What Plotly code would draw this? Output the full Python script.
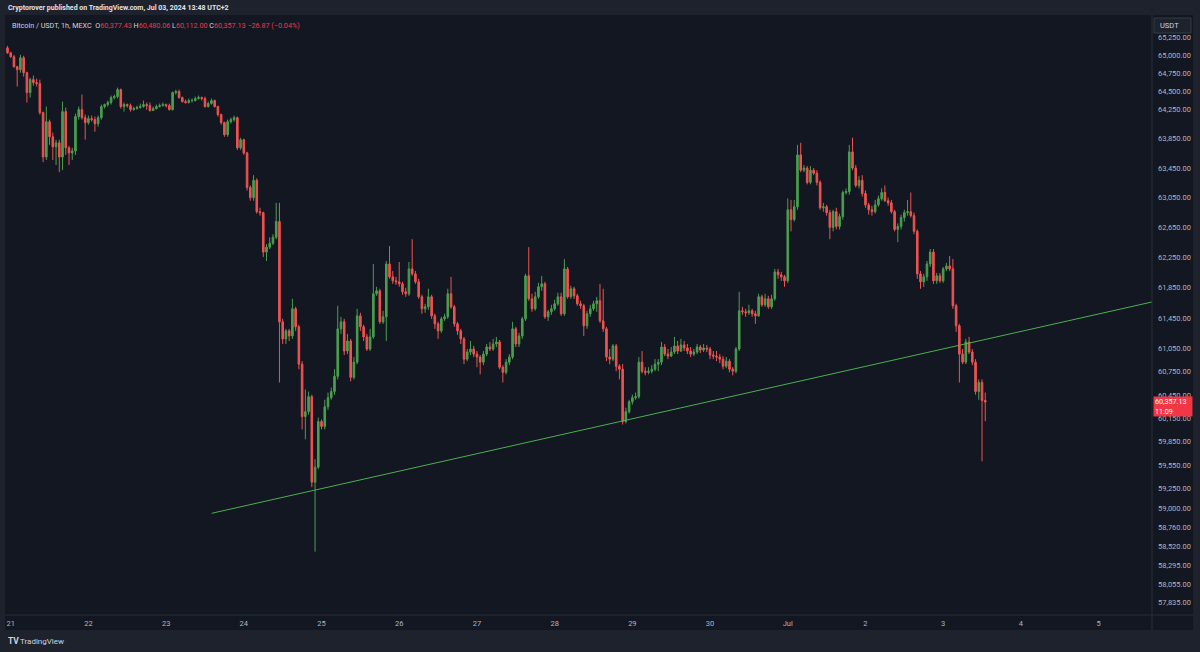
import math
import pandas as pd
import plotly.graph_objects as go

# ---------------- data (BTC/USDT 1h, MEXC) ----------------
opens = [
    65099, 65030, 64975, 64837, 64796, 64961, 64755, 64480, 64659, 64618,
    64604, 64205, 63600, 64081, 63875, 63738, 63793, 63600, 64219, 63724,
    63655, 63682, 64150, 64246, 64136, 64068, 64123, 64109, 64054, 64136,
    64288, 64315, 64343, 64411, 64425, 64521, 64288, 64315, 64301, 64246,
    64260, 64274, 64288, 64315, 64301, 64233, 64260, 64288, 64301, 64315,
    64301, 64246, 64480, 64494, 64411, 64356, 64343, 64370, 64372, 64398,
    64411, 64398, 64288, 64329, 64370, 64288, 64178, 64068, 63903, 64081,
    64109, 64136, 63724, 63834, 63655, 63188, 63050, 63284, 62861, 62848,
    62321, 62387, 62440, 62519, 62729, 61400, 61177, 61282, 61216, 61571,
    61335, 60848, 60171, 60234, 60427, 59334, 59524, 60107, 60044, 60297,
    60414, 60493, 60690, 61308, 61400, 61019, 61150, 60677, 60874, 61479,
    61335, 61203, 61045, 61203, 61769, 61808, 61400, 61466, 62164, 61993,
    61940, 61927, 61900, 61795, 61769, 62098, 62032, 61927, 61729, 61571,
    61598, 61729, 61479, 61374, 61282, 61439, 61466, 61769, 61598, 61374,
    61282, 61177, 60913, 61006, 61045, 60979, 60940, 60874, 60979, 61071,
    61045, 61111, 61137, 60808, 60742, 60874, 60940, 61308, 61111, 61216,
    61439, 62006, 61703, 61571, 61729, 61861, 61900, 61466, 61532, 61571,
    61637, 61729, 61506, 62098, 61729, 61835, 61742, 61637, 61611, 61348,
    61506, 61571, 61637, 61677, 61413, 61308, 60940, 60913, 61085, 60821,
    60782, 60107, 60234, 60361, 60414, 60427, 60874, 60756, 60742, 60756,
    60782, 60848, 60874, 61071, 60979, 60953, 61006, 61085, 61019, 61098,
    61058, 61019, 60979, 61006, 61071, 61032, 61058, 61045, 60966, 60953,
    60940, 60913, 60821, 60887, 60782, 60756, 61045, 61545, 61532, 61519,
    61545, 61506, 61479, 61729, 61624, 61703, 61598, 61703, 62058, 62019,
    61993, 61940, 62887, 62756, 62927, 63628, 63421, 63449, 63256, 63421,
    63380, 63256, 62914, 62927, 62848, 62651, 62861, 62664, 62795, 63119,
    63132, 63669, 63449, 63215, 63284, 63105, 62953, 62887, 62861, 62953,
    63036, 63119, 63009, 62980, 62861, 62624, 62664, 62782, 62848, 62861,
    62808, 62598, 62032, 61927, 61993, 62164, 62321, 61940, 62006, 61940,
    62098, 62137, 62098, 61611, 61348, 60979, 60874, 61137, 61006, 60874,
    60493, 60611, 60377.43,
]
highs = [
    65126, 65044, 65002, 64851, 65002, 64989, 64769, 64686, 64714, 64673,
    64659, 64219, 64288, 64109, 63930, 63834, 63834, 64356, 64274, 63751,
    63724, 64191, 64288, 64453, 64178, 64164, 64164, 64150, 64164, 64315,
    64329, 64370, 64439, 64453, 64549, 64535, 64343, 64329, 64329, 64288,
    64301, 64329, 64370, 64343, 64343, 64288, 64315, 64329, 64343, 64329,
    64329, 64494, 64521, 64521, 64425, 64384, 64398, 64398, 64425, 64439,
    64425, 64425, 64356, 64398, 64384, 64301, 64191, 64081, 64109, 64136,
    64164, 64150, 63861, 63848, 63669, 63215, 63353, 63311, 62914, 62861,
    62427, 62519, 62559, 62980, 62980, 61439, 61308, 61308, 61703, 61598,
    61361, 60887, 60519, 60493, 60453, 59626, 60158, 60133, 60387, 60480,
    60545, 60782, 61611, 61466, 61439, 61242, 61177, 60940, 61571, 61519,
    61361, 61242, 61308, 62164, 61861, 61835, 61545, 62203, 62400, 62071,
    61993, 62190, 61927, 61848, 62190, 62493, 62071, 61966, 61756, 61637,
    61835, 61756, 61506, 61400, 61466, 61506, 61835, 61993, 61624, 61400,
    61308, 61203, 61045, 61150, 61085, 61019, 60966, 61019, 61111, 61137,
    61177, 61203, 61163, 60835, 60913, 60979, 61400, 61335, 61256, 61466,
    62032, 62387, 61769, 61795, 61914, 62006, 61927, 61558, 61624, 61690,
    61782, 61782, 62229, 62124, 61874, 61861, 61769, 61677, 61637, 61545,
    61624, 61677, 61729, 61900, 61835, 61335, 61045, 61111, 61111, 60848,
    60848, 60285, 60387, 60453, 60480, 60940, 61019, 60808, 60808, 60835,
    60913, 60913, 61137, 61111, 61045, 61071, 61203, 61150, 61177, 61150,
    61111, 61071, 61045, 61111, 61098, 61111, 61098, 61071, 61019, 61019,
    60979, 60953, 60940, 60913, 60808, 61071, 61795, 61598, 61571, 61624,
    61571, 61545, 61769, 61756, 61769, 61742, 61756, 62098, 62098, 62058,
    62019, 63040, 63019, 63019, 63765, 63793, 63490, 63476, 63476, 63449,
    63421, 63284, 62980, 62953, 62887, 62887, 62914, 62835, 63146, 63174,
    63765, 63861, 63490, 63339, 63353, 63146, 62980, 62940, 63019, 63078,
    63174, 63215, 63050, 63019, 62887, 62703, 62822, 62887, 63019, 63119,
    62848, 62624, 62071, 62032, 62203, 62361, 62361, 62045, 62045, 62124,
    62177, 62269, 62229, 61637, 61374, 61045, 61177, 61203, 61045, 60913,
    60650, 60650, 60480.06,
]
lows = [
    65016, 64961, 64824, 64563, 64755, 64700, 64343, 64411, 64576, 64563,
    64178, 63531, 63559, 63765, 63559, 63490, 63394, 63421, 63628, 63490,
    63559, 63628, 64109, 64109, 63834, 64040, 64081, 63944, 64013, 64109,
    64260, 64288, 64315, 64384, 64398, 64260, 64219, 64274, 64219, 64233,
    64246, 64260, 64274, 64246, 64219, 64233, 64246, 64274, 64288, 64274,
    64233, 64233, 64453, 64398, 64343, 64329, 64329, 64343, 64356, 64384,
    64370, 64274, 64274, 64315, 64274, 64150, 64040, 63875, 63875, 64054,
    64081, 63696, 63696, 63628, 63146, 63009, 63009, 62835, 62808, 62256,
    62203, 62361, 62414, 62493, 60611, 61111, 61111, 61150, 61177, 61282,
    60782, 60006, 59879, 60196, 59271, 58460, 59499, 60006, 60006, 60259,
    60387, 60453, 60650, 61242, 60966, 60979, 60624, 60650, 60848, 61282,
    61150, 61019, 61019, 61177, 61742, 61374, 61374, 61150, 61966, 61900,
    61887, 61861, 61756, 61729, 61742, 62006, 61900, 61703, 61506, 61519,
    61558, 61439, 61308, 61177, 61256, 61413, 61439, 61571, 61335, 61229,
    61111, 60848, 60887, 60966, 60940, 60808, 60716, 60835, 60953, 61019,
    61019, 61071, 60782, 60611, 60716, 60835, 60913, 61071, 61071, 61177,
    61413, 61677, 61532, 61545, 61703, 61808, 61439, 61413, 61492, 61545,
    61611, 61479, 61479, 61703, 61703, 61703, 61611, 61571, 61216, 61308,
    61466, 61545, 61532, 61387, 61269, 60887, 60848, 60887, 60756, 60650,
    60069, 60082, 60209, 60323, 60387, 60401, 60729, 60703, 60716, 60729,
    60756, 60756, 60835, 60953, 60913, 60940, 60979, 60979, 61006, 61019,
    60979, 60940, 60953, 60979, 60992, 61006, 61006, 60913, 60913, 60887,
    60861, 60782, 60795, 60742, 60703, 60729, 61019, 61492, 61466, 61492,
    61466, 61374, 61466, 61598, 61598, 61571, 61571, 61677, 61966, 61940,
    61861, 61914, 62598, 62729, 62887, 63394, 63394, 63229, 63229, 63353,
    63215, 62887, 62861, 62808, 62493, 62598, 62624, 62624, 62756, 63091,
    63091, 63421, 63188, 63174, 63064, 62914, 62822, 62808, 62835, 62927,
    63009, 62993, 62940, 62835, 62598, 62453, 62624, 62729, 62808, 62782,
    62559, 61966, 61835, 61861, 61940, 62124, 61900, 61900, 61914, 61914,
    62071, 62071, 61571, 61269, 60611, 60848, 60848, 60979, 60835, 60453,
    60387, 59600, 60112.00,
]
closes = [
    65030, 64975, 64837, 64796, 64961, 64755, 64480, 64659, 64618, 64604,
    64205, 63600, 64081, 63875, 63738, 63793, 63600, 64219, 63724, 63655,
    63682, 64150, 64246, 64136, 64068, 64123, 64109, 64054, 64136, 64288,
    64315, 64343, 64411, 64425, 64521, 64288, 64315, 64301, 64246, 64260,
    64274, 64288, 64315, 64301, 64233, 64260, 64288, 64301, 64315, 64301,
    64246, 64480, 64494, 64411, 64356, 64343, 64370, 64372, 64398, 64411,
    64398, 64288, 64329, 64370, 64288, 64178, 64068, 63903, 64081, 64109,
    64136, 63724, 63834, 63655, 63188, 63050, 63284, 62861, 62848, 62321,
    62387, 62440, 62519, 62729, 61400, 61177, 61282, 61216, 61571, 61335,
    60848, 60171, 60234, 60427, 59334, 59524, 60107, 60044, 60297, 60414,
    60493, 60690, 61308, 61400, 61019, 61150, 60677, 60874, 61479, 61335,
    61203, 61045, 61203, 61769, 61808, 61400, 61466, 62164, 61993, 61940,
    61927, 61900, 61795, 61769, 62098, 62032, 61927, 61729, 61571, 61598,
    61729, 61479, 61374, 61282, 61439, 61466, 61769, 61598, 61374, 61282,
    61177, 60913, 61006, 61045, 60979, 60940, 60874, 60979, 61071, 61045,
    61111, 61137, 60808, 60742, 60874, 60940, 61308, 61111, 61216, 61439,
    62006, 61703, 61571, 61729, 61861, 61900, 61466, 61532, 61571, 61637,
    61729, 61506, 62098, 61729, 61835, 61742, 61637, 61611, 61348, 61506,
    61571, 61637, 61677, 61413, 61308, 60940, 60913, 61085, 60821, 60782,
    60107, 60234, 60361, 60414, 60427, 60874, 60756, 60742, 60756, 60782,
    60848, 60874, 61071, 60979, 60953, 61006, 61085, 61019, 61098, 61058,
    61019, 60979, 61006, 61071, 61032, 61058, 61045, 60966, 60953, 60940,
    60913, 60821, 60887, 60782, 60756, 61045, 61545, 61532, 61519, 61545,
    61506, 61479, 61729, 61624, 61703, 61598, 61703, 62058, 62019, 61993,
    61940, 62887, 62756, 62927, 63628, 63421, 63449, 63256, 63421, 63380,
    63256, 62914, 62927, 62848, 62651, 62861, 62664, 62795, 63119, 63132,
    63669, 63449, 63215, 63284, 63105, 62953, 62887, 62861, 62953, 63036,
    63119, 63009, 62980, 62861, 62624, 62664, 62782, 62848, 62861, 62808,
    62598, 62032, 61927, 61993, 62164, 62321, 61940, 62006, 61940, 62098,
    62137, 62098, 61611, 61348, 60979, 60874, 61137, 61006, 60874, 60493,
    60611, 60377.43, 60357.13,
]
dates = pd.date_range("2024-06-20 23:00", periods=len(closes), freq="h")

day_ticks = list(pd.date_range("2024-06-21", "2024-07-05", freq="D"))
day_labels = ["21", "22", "23", "24", "25", "26", "27", "28", "29", "30",
              "Jul", "2", "3", "4", "5"]

price_ticks = [65250, 65000, 64750, 64500, 64250, 63850, 63450, 63050, 62650,
               62250, 61850, 61450, 61050, 60750, 60450, 60150, 59850, 59550,
               59250, 59000, 58760, 58520, 58295, 58055, 57835]

trend_dates = ["2024-06-23 14:04", "2024-07-05 16:30"]
trend_prices = [58941, 61661]

last_price_label = "60,357.13"
countdown_label = "11:09"

# ---------------- styling ----------------
W, H = 1200, 652
ML, MR, MT, MB = 5, 48, 15, 37
PW, PH = W - ML - MR, H - MT - MB
PANE = "#131722"
FRAME = "#1e222d"
BORDER = "#2a2e39"
TXT = "#b2b5be"
GREEN = "#4a9f4e"
RED = "#ef5350"
LABEL_RED = "#f23645"
FONT = "Roboto"


def px(x):
    return (x - ML) / PW


def py(y):
    return (H - MB - y) / PH


fig = go.Figure()

fig.add_trace(go.Candlestick(
    x=dates, open=opens, high=highs, low=lows, close=closes,
    increasing=dict(line=dict(color=GREEN, width=1), fillcolor=GREEN),
    decreasing=dict(line=dict(color=RED, width=1), fillcolor=RED),
    whiskerwidth=0, showlegend=False, hoverinfo="skip",
))

fig.add_trace(go.Scatter(
    x=trend_dates, y=trend_prices, mode="lines",
    line=dict(color="#4caf50", width=1), showlegend=False, hoverinfo="skip",
))

x_start = pd.Timestamp("2024-06-20 23:00") - pd.Timedelta(minutes=46)
x_end = pd.Timestamp("2024-06-20 23:00") + pd.Timedelta(minutes=int(353.5 * 60))

fig.update_layout(
    width=W, height=H, autosize=False,
    margin=dict(l=ML, r=MR, t=MT, b=MB, pad=0),
    paper_bgcolor=FRAME, plot_bgcolor=PANE,
    font=dict(family=FONT, size=8, color=TXT),
    showlegend=False, boxgap=0.3, dragmode=False,
    xaxis=dict(
        type="date", range=[x_start, x_end], rangeslider=dict(visible=False),
        tickmode="array", tickvals=day_ticks, ticktext=day_labels,
        showgrid=False, zeroline=False, showline=False, ticks="",
        ticklabelstandoff=2,
        tickfont=dict(family=FONT, size=7.5, color=TXT), automargin=False,
    ),
    yaxis=dict(
        type="log", side="right",
        range=[math.log10(57675), math.log10(65557)],
        tickmode="array", tickvals=price_ticks, tickformat=",.2f",
        showgrid=False, zeroline=False, showline=False, ticks="",
        ticklabelstandoff=5,
        tickfont=dict(family=FONT, size=7.5, color=TXT), automargin=False,
    ),
)

shapes = [
    # chart pane background
    dict(type="rect", xref="paper", yref="paper", x0=0, x1=px(1193),
         y0=py(630), y1=1, fillcolor=PANE, line=dict(width=0), layer="below"),
    # time-axis separator
    dict(type="line", xref="paper", yref="paper", x0=0, x1=px(1193),
         y0=0, y1=0, line=dict(color=BORDER, width=1), layer="above"),
    # price-axis separator
    dict(type="line", xref="paper", yref="paper", x0=1, x1=1,
         y0=py(630), y1=1, line=dict(color=BORDER, width=1), layer="above"),
    # USDT box
    dict(type="rect", xref="paper", yref="paper", x0=px(1154), x1=px(1191),
         y0=py(33), y1=py(18), fillcolor=FRAME,
         line=dict(color="#363a45", width=1), layer="above"),
]
fig.update_layout(shapes=shapes)

red = LABEL_RED
sp = "&nbsp;"
legend_text = (
    f"<span style='color:#d1d4dc'>Bitcoin / USDT, 1h, MEXC</span>{sp}{sp}"
    f"<span style='color:#d1d4dc'>O</span><span style='color:{red}'>60,377.43</span>{sp}"
    f"<span style='color:#d1d4dc'>H</span><span style='color:{red}'>60,480.06</span>{sp}"
    f"<span style='color:#d1d4dc'>L</span><span style='color:{red}'>60,112.00</span>{sp}"
    f"<span style='color:#d1d4dc'>C</span><span style='color:{red}'>60,357.13</span>{sp}"
    f"<span style='color:{red}'>−26.87 (−0.04%)</span>"
)

annotations = [
    dict(text="<b>Cryptorover published on TradingView.com, Jul 03, 2024 13:48 UTC+2</b>",
         xref="paper", yref="paper", x=px(6), y=py(8), xanchor="left",
         yanchor="middle", showarrow=False,
         font=dict(family=FONT, size=7, color="#e0e3eb")),
    dict(text=legend_text, xref="paper", yref="paper", x=px(10), y=py(25),
         xanchor="left", yanchor="middle", showarrow=False,
         font=dict(family=FONT, size=7.2, color="#d1d4dc")),
    dict(text="USDT", xref="paper", yref="paper", x=px(1158), y=py(25.5),
         xanchor="left", yanchor="middle", showarrow=False,
         font=dict(family=FONT, size=7.5, color="#d1d4dc")),
    dict(text=f"{last_price_label}<br>{countdown_label}", xref="paper", yref="y",
         x=px(1152.5), y=math.log10(closes[-1]), xanchor="left", yanchor="middle",
         yshift=-4, showarrow=False, align="left", bgcolor=LABEL_RED,
         width=36, height=17, borderpad=1,
         font=dict(family=FONT, size=7.2, color="#ffffff")),
    dict(text="<b>TV</b>", xref="paper", yref="paper", x=px(6), y=py(641),
         xanchor="left", yanchor="middle", showarrow=False,
         font=dict(family=FONT, size=8.5, color="#d1d4dc")),
    dict(text="TradingView", xref="paper", yref="paper", x=px(18), y=py(641),
         xanchor="left", yanchor="middle", showarrow=False,
         font=dict(family=FONT, size=8, color="#d1d4dc")),
]
fig.update_layout(annotations=annotations)

fig.write_html("out.html", config={"displayModeBar": False, "staticPlot": True})
